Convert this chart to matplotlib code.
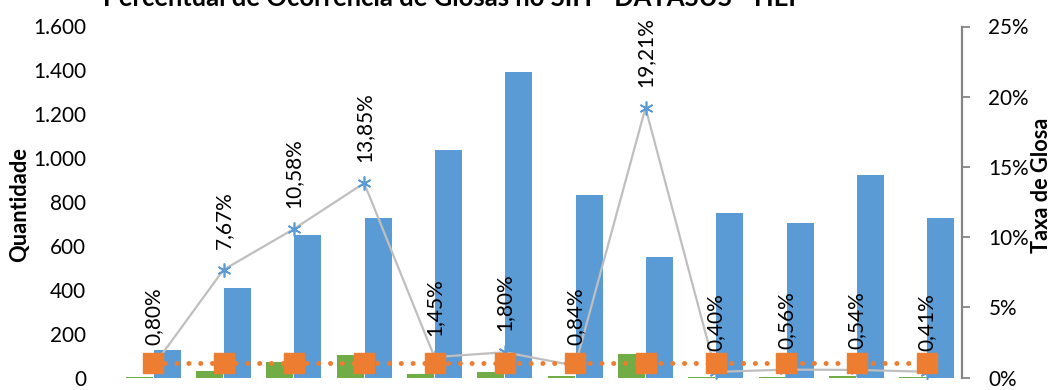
import matplotlib
matplotlib.use("Agg")
import matplotlib.pyplot as plt
from matplotlib.ticker import FuncFormatter, MultipleLocator
import numpy as np

# ---- data ----
categories = ["1", "2", "3", "4", "5", "6", "7", "8", "9", "10", "11", "12"]
quantidade = [126, 408, 650, 727, 1037, 1394, 830, 549, 748, 705, 925, 728]
glosas = [1, 31, 69, 101, 15, 25, 7, 105, 3, 4, 5, 3]
taxa = [0.80, 7.67, 10.58, 13.85, 1.45, 1.80, 0.84, 19.21, 0.40, 0.56, 0.54, 0.41]
meta = [1.0] * 12
taxa_labels = ["0,80%", "7,67%", "10,58%", "13,85%", "1,45%", "1,80%",
               "0,84%", "19,21%", "0,40%", "0,56%", "0,54%", "0,41%"]
title = "Percentual de Ocorrência de Glosas no SIH - DATASUS - HEP"

BLUE = "#5B9BD5"
GREEN = "#70AD47"
ORANGE = "#ED7D31"
GRAY = "#BFBFBF"
AXGRAY = "#868686"

plt.rcParams['font.family'] = ['Lato', 'DejaVu Sans']

W, H = 1051, 390
fig = plt.figure(figsize=(W / 100, H / 100), dpi=100)
renderer = fig.canvas.get_renderer()


def fit(t, target_px, horizontal=True):
    for _ in range(3):
        bb = t.get_window_extent(renderer=renderer)
        cur = bb.width if horizontal else bb.height
        t.set_fontsize(t.get_fontsize() * target_px / cur)


def size_for(s, target_px, weight="normal"):
    t = fig.text(0, 0, s, fontsize=10, fontweight=weight)
    bb = t.get_window_extent(renderer=renderer)
    fs = 10 * target_px / bb.width
    t.remove()
    return fs


tick_fs = size_for("1.600", 53)
lab_fs = size_for("13,85%", 70)

ax_left, ax_right = 118, 962
ax_bottom_px, ax_top_px = 377.5, 26.5
ax = fig.add_axes([ax_left / W, (H - ax_bottom_px) / H,
                   (ax_right - ax_left) / W, (ax_bottom_px - ax_top_px) / H])
x = np.arange(len(categories))
bw = 0.385
ax.bar(x - 0.2, glosas, width=bw, color=GREEN, zorder=2)
ax.bar(x + 0.2, quantidade, width=bw, color=BLUE, zorder=2)
ax.set_xlim(-0.5, len(categories) - 0.5)
ax.set_ylim(0, 1600)
ax.yaxis.set_major_locator(MultipleLocator(200))
ax.yaxis.set_major_formatter(FuncFormatter(lambda v, p: f"{int(v):,}".replace(",", ".")))
ax.tick_params(axis="y", length=0, pad=23, labelsize=tick_fs, colors="black")
ax.set_xticks([])
for s in ax.spines.values():
    s.set_visible(False)

ax2 = ax.twinx()
ax2.set_ylim(0, 25)
ax2.yaxis.set_major_locator(MultipleLocator(5))
ax2.yaxis.set_major_formatter(FuncFormatter(lambda v, p: f"{int(v)}%"))
ax2.tick_params(axis="y", length=6, width=1.3, color=AXGRAY, pad=13,
                labelsize=tick_fs, labelcolor="black")
for k, s in ax2.spines.items():
    s.set_visible(k == "right")
ax2.spines["right"].set_color(AXGRAY)
ax2.spines["right"].set_linewidth(1.6)

ax2.plot(x, taxa, color=GRAY, lw=1.6, marker=(6, 2, 0), markersize=10,
         mec=BLUE, mfc=BLUE, mew=1.2, zorder=3, clip_on=False)
ax2.plot(x, meta, color=ORANGE, lw=3.6, linestyle=(0, (0.01, 2.35)),
         dash_capstyle="round", marker="s", markersize=14.5, mec=ORANGE,
         mfc=ORANGE, zorder=4, clip_on=False)
for xi, v, s in zip(x, taxa, taxa_labels):
    ax2.annotate(s, (xi, v), xytext=(0, 15), textcoords="offset points",
                 rotation=90, ha="center", va="bottom", fontsize=lab_fs,
                 color="black", zorder=5, annotation_clip=False)

t = fig.text(454 / W, 1 - 6 / H, title, ha="center", va="baseline",
             fontweight="bold", fontsize=16)
fit(t, 702)

yl = fig.text(20 / W, 1 - 204 / H, "Quantidade", rotation=90, ha="center",
              va="center", fontweight="bold", fontsize=14)
fit(yl, 115, horizontal=False)
yr = fig.text(1041 / W, 1 - 185 / H, "Taxa de Glosa", rotation=90, ha="center",
              va="center", fontweight="bold", fontsize=14)
fit(yr, 136, horizontal=False)

fig.savefig("out.png", dpi=100)
